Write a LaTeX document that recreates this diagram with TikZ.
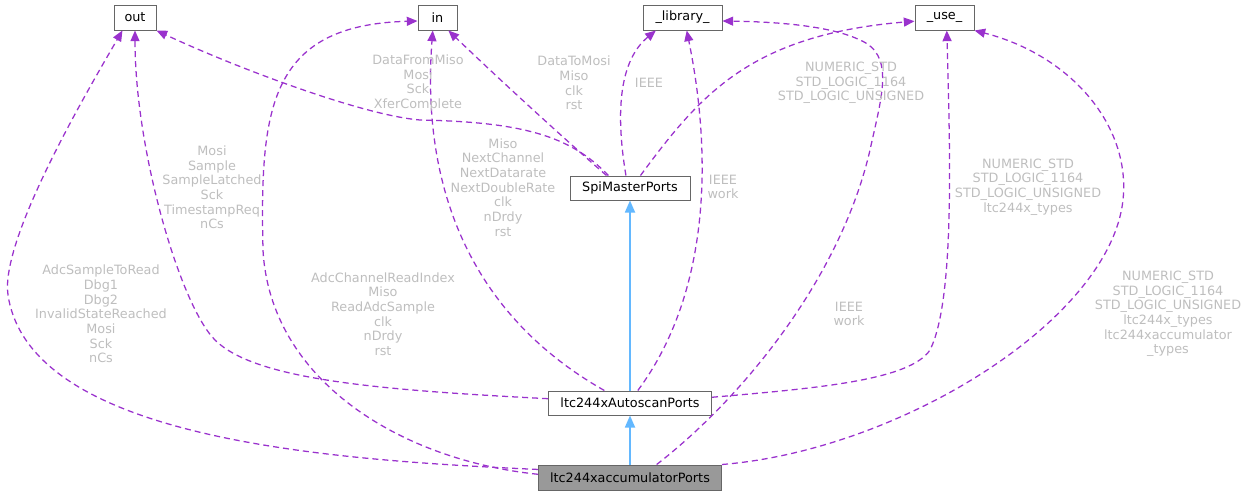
\documentclass[tikz,border=0pt]{standalone}
\usepackage{fontspec}
\setmainfont{DejaVu Sans}
\usetikzlibrary{arrows.meta}
\definecolor{edgepurple}{HTML}{9A32CD}
\definecolor{inhblue}{HTML}{63B8FF}
\definecolor{boxgray}{HTML}{666666}
\definecolor{rootfill}{HTML}{999999}
\definecolor{lblgray}{HTML}{BEBEBE}

\begin{document}
\begin{tikzpicture}[x=0.75pt, y=-0.75pt, font=\fontsize{9.6}{11}\selectfont,
    cls/.style={draw=boxgray, fill=white, line width=0.75pt, inner sep=0pt, minimum height=18.75pt},
    dep/.style={edgepurple, line width=0.95pt, dash pattern=on 4.5pt off 3pt,
                -{Triangle[length=8pt, width=6.75pt]}},
    inh/.style={draw=inhblue, line width=1.3pt, -{Triangle[length=9pt, width=7.5pt]}},
    lbl/.style={text=lblgray, align=center, inner sep=0pt}]
  \useasboundingbox (0,0) rectangle (1250,496);

  % classes
  \node[cls, minimum width=31.5pt] (out) at (135,17.5) {out};
  \node[cls, minimum width=29.25pt] (in) at (437.5,17.5) {in};
  \node[cls, minimum width=59.25pt] (library) at (682.5,17.5) {\_library\_};
  \node[cls, minimum width=44.25pt] (use) at (944.5,17.5) {\_use\_};
  \node[cls, minimum width=90pt, minimum height=18pt] (spi) at (630,188) {SpiMasterPorts};
  \node[cls, minimum width=122.25pt, minimum height=18pt] (autoscan) at (630,403) {ltc244xAutoscanPorts};
  \node[cls, fill=rootfill, minimum width=137.25pt] (accum) at (630,477.5) {ltc244xaccumulatorPorts};

  % inheritance
  \draw[inh] (autoscan.north) -- (spi.south);
  \draw[inh] (accum.north) -- (autoscan.south);

  % ltc244xaccumulatorPorts uses
  \draw[dep] (accum.175) .. controls (330,460) and (30,440) .. (8,295)
    .. controls (0,240) and (85,95) .. (out.226);
  \draw[dep] (accum.178) .. controls (400,460) and (270,380) .. (263,250)
    .. controls (260,110) and (268,25) .. (in.190);
  \draw[dep] (accum.26) .. controls (740,400) and (840,280) .. (870,150)
    .. controls (882,95) and (895,55) .. (860,40)
    .. controls (835,28) and (790,22) .. (library.355);
  \draw[dep] (accum.north east) .. controls (900,450) and (1110,320) .. (1123,200)
    .. controls (1131,125) and (1070,55) .. (use.south east);

  % ltc244xAutoscanPorts uses
  \draw[dep] (autoscan.177) .. controls (380,390) and (255,380) .. (215,340)
    .. controls (180,305) and (135,150) .. (out.south);
  \draw[dep] (autoscan.154) .. controls (480,320) and (420,200) .. (in.250);
  \draw[dep] (autoscan.58) .. controls (705,300) and (715,170) .. (library.288);
  \draw[dep] (autoscan.4) .. controls (820,388) and (910,380) .. (930,350)
    .. controls (955,300) and (950,150) .. (use.280);

  % SpiMasterPorts uses
  \draw[dep] (spi.150) .. controls (570,135) and (520,122) .. (420,120)
    .. controls (360,115) and (230,65) .. (out.south east);
  \draw[dep] (spi.152) .. controls (560,135) and (500,80) .. (in.310);
  \draw[dep] (spi.108) .. controls (615,110) and (620,60) .. (library.206);
  \draw[dep] (spi.50) .. controls (700,95) and (750,35) .. (use.187);

  % edge labels
  \node[lbl] (acc-out) at (101,314) {AdcSampleToRead\\Dbg1\\Dbg2\\InvalidStateReached\\Mosi\\Sck\\nCs};
  \node[lbl] (acc-in) at (383,314) {AdcChannelReadIndex\\Miso\\ReadAdcSample\\clk\\nDrdy\\rst};
  \node[lbl] (acc-lib) at (849,314) {IEEE\\work};
  \node[lbl] (acc-use) at (1168,314) {NUMERIC\_STD\\STD\_LOGIC\_1164\\STD\_LOGIC\_UNSIGNED\\ltc244x\_types\\ltc244xaccumulator\hspace*{15pt}\\\_types};
  \node[lbl] (auto-out) at (212,187.5) {Mosi\\Sample\\SampleLatched\\Sck\\TimestampReq\\nCs};
  \node[lbl] (auto-in) at (503,187.5) {Miso\\NextChannel\\NextDatarate\\NextDoubleRate\\clk\\nDrdy\\rst};
  \node[lbl] (auto-lib) at (723,187) {IEEE\\work};
  \node[lbl] (auto-use) at (1028,187) {NUMERIC\_STD\\STD\_LOGIC\_1164\\STD\_LOGIC\_UNSIGNED\\ltc244x\_types};
  \node[lbl] (spi-out) at (418,83) {DataFromMiso\\Mosi\\Sck\\XferComplete};
  \node[lbl] (spi-in) at (574,83) {DataToMosi\\Miso\\clk\\rst};
  \node[lbl] (spi-lib) at (649,83) {IEEE};
  \node[lbl] (spi-use) at (851,83) {NUMERIC\_STD\\STD\_LOGIC\_1164\\STD\_LOGIC\_UNSIGNED};
\end{tikzpicture}
\end{document}
